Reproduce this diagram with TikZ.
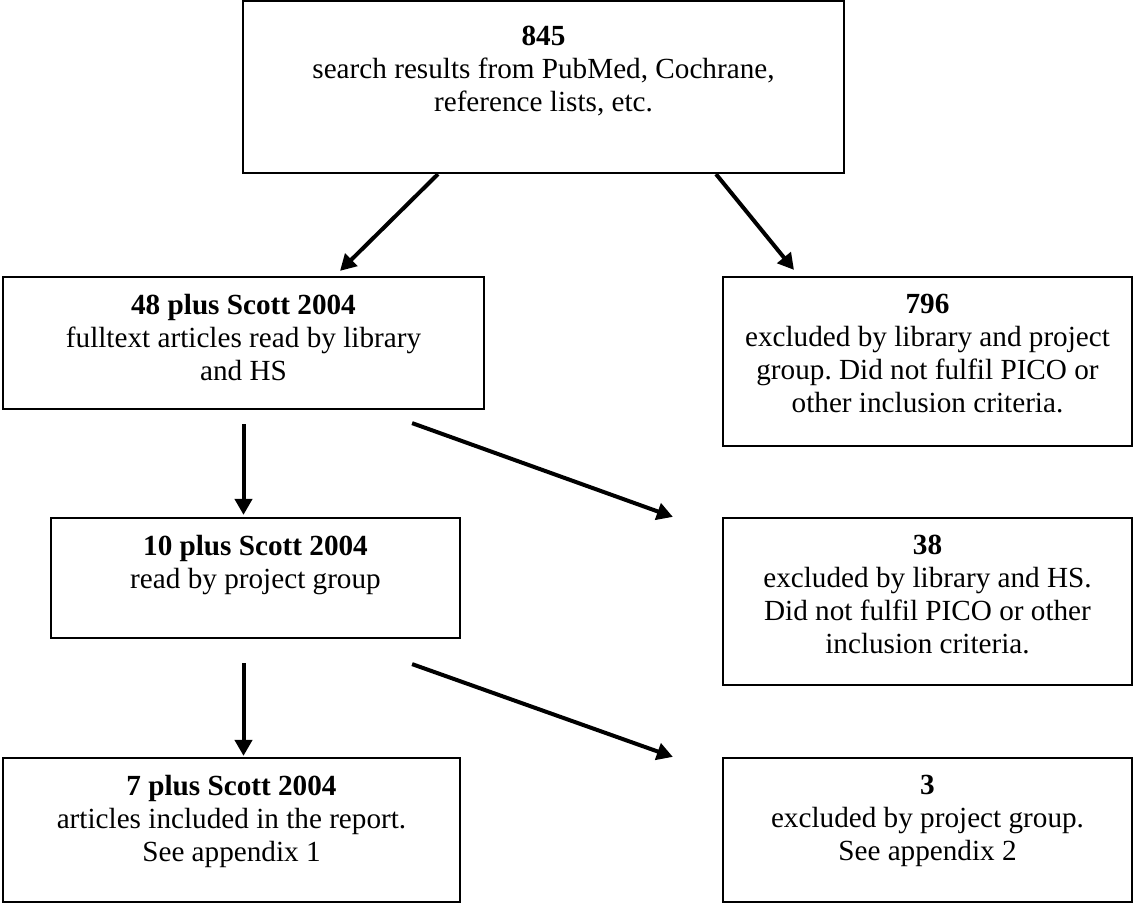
\documentclass[tikz,border=0pt]{standalone}
\usepackage{fontspec}
\setmainfont{Liberation Serif}
\usetikzlibrary{positioning,calc,arrows.meta}
\frenchspacing

\begin{document}
\begin{tikzpicture}[x=0.5pt, y=-0.5pt, font=\fontsize{14.6}{16.5}\selectfont]
    % Styles:
    \tikzset{flowbox/.style={draw, line width=1.1pt, inner sep=0pt}}
    \tikzset{boxtext/.style={align=center, inner sep=0pt}}
    \tikzset{flowarrow/.style={line width=2pt, -{Triangle[length=8pt, width=8.5pt]}}}

    \useasboundingbox (0,0) rectangle (1134,904);

    % Boxes:
    \node[flowbox, minimum width=300.5pt, minimum height=86pt]  (search)   at (543.5,87)    {};
    \node[flowbox, minimum width=240.5pt, minimum height=66pt]  (fulltext) at (243.5,343)   {};
    \node[flowbox, minimum width=204.5pt, minimum height=84.5pt] (exclA)   at (927.5,361.5) {};
    \node[flowbox, minimum width=204.5pt, minimum height=60pt]  (projread) at (255.5,578)   {};
    \node[flowbox, minimum width=204.5pt, minimum height=83.5pt] (exclB)   at (927.5,601.5) {};
    \node[flowbox, minimum width=228.5pt, minimum height=72pt]  (included) at (231.5,830)   {};
    \node[flowbox, minimum width=204.5pt, minimum height=72pt]  (exclC)    at (927.5,830)   {};

    % Texts:
    \node[boxtext] (tsearch)   [below = 13pt of search.north]   {\textbf{845}\\ search results from PubMed, Cochrane,\\ reference lists, etc.};
    \node[boxtext] (tfulltext) [below = 9pt of fulltext.north]  {\textbf{48 plus Scott 2004}\\ fulltext articles read by library\\ and HS};
    \node[boxtext] (texclA)    [below = 9pt of exclA.north]     {\textbf{796}\\ excluded by library and project\\ group. Did not fulfil PICO or\\ other inclusion criteria.};
    \node[boxtext] (tprojread) [below = 9pt of projread.north]  {\textbf{10 plus Scott 2004}\\ read by project group};
    \node[boxtext] (texclB)    [below = 9pt of exclB.north]     {\textbf{38}\\ excluded by library and HS.\\ Did not fulfil PICO or other\\ inclusion criteria.};
    \node[boxtext] (tincluded) [below = 9pt of included.north]  {\textbf{7 plus Scott 2004}\\ articles included in the report.\\ See appendix 1};
    \node[boxtext] (texclC)    [below = 9pt of exclC.north]     {\textbf{3}\\ excluded by project group.\\ See appendix 2};

    % Arrows:
    \draw[flowarrow] ($(search.south)+(-105.5,0)$) -- ($(fulltext.north)+(96.5,-5)$);
    \draw[flowarrow] ($(search.south)+(172.5,0)$) -- ($(exclA.north)+(-133.5,-6)$);
    \draw[flowarrow] ($(fulltext.south)+(0,14)$) -- ($(fulltext.south |- projread.north)+(0,-2)$);
    \draw[flowarrow] ($(fulltext.south east)+(-73,13)$) -- ($(exclB.north west)+(-49,0)$);
    \draw[flowarrow] ($(fulltext.south |- projread.south)+(0,24)$) -- ($(fulltext.south |- included.north)+(0,-1)$);
    \draw[flowarrow] ($(projread.south east)+(-49,25)$) -- ($(exclC.north west)+(-49,0)$);
\end{tikzpicture}
\end{document}
